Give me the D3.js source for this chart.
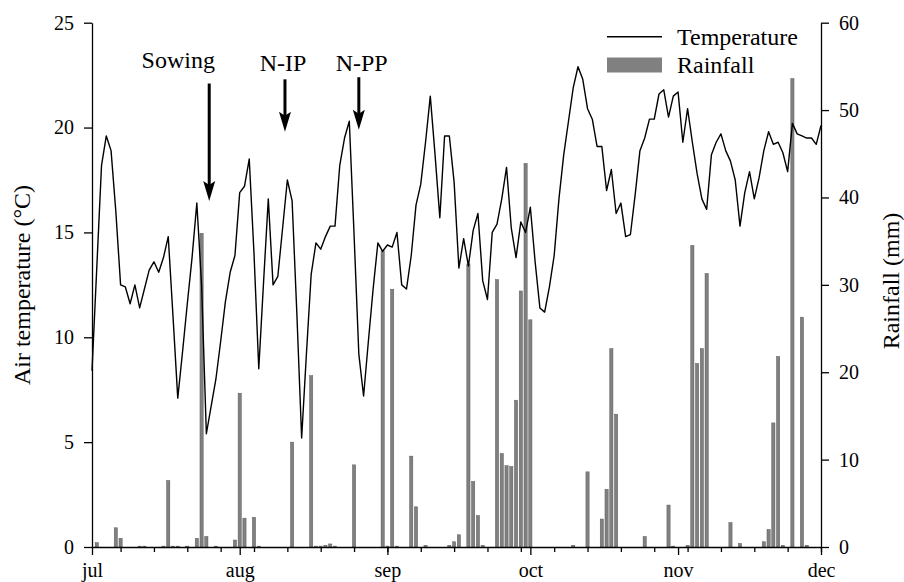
<!DOCTYPE html>
<html>
<head>
<meta charset="utf-8">
<script src="https://cdn.jsdelivr.net/npm/d3@7"></script>
<style>
  body { margin: 0; background: #fff; }
  svg text { font-family: "Liberation Serif", "Times New Roman", serif; fill: #000; }
</style>
</head>
<body>
<svg width="904" height="582"></svg>
<script>
// daily air temperature (°C), one value per day from 1 jul to 1 dec
var temperature = [
  8.4, 13.3, 18.2, 19.6, 18.9, 16.0, 12.5, 12.4, 11.6, 12.5,
  11.4, 12.3, 13.2, 13.6, 13.1, 13.8, 14.8, 11.0, 7.1, 9.3,
  11.6, 13.8, 16.4, 12.5, 5.4, 6.7, 8.0, 9.8, 11.7, 13.1,
  13.9, 16.9, 17.2, 18.5, 14.0, 8.5, 12.6, 16.6, 12.5, 12.9,
  15.2, 17.5, 16.5, 11.1, 5.2, 9.2, 13.0, 14.5, 14.2, 14.8,
  15.3, 15.3, 18.2, 19.5, 20.3, 14.9, 9.2, 7.2, 9.8, 12.3,
  14.5, 14.1, 14.4, 14.3, 15.0, 12.5, 12.3, 13.9, 16.3, 17.3,
  19.3, 21.5, 18.7, 15.7, 19.6, 19.6, 17.4, 13.3, 14.7, 13.4,
  15.1, 15.9, 12.7, 11.8, 15.0, 15.4, 16.6, 18.1, 15.2, 13.8,
  15.5, 15.0, 16.2, 13.6, 11.4, 11.2, 12.4, 13.9, 16.6, 18.7,
  20.3, 21.9, 22.9, 22.3, 20.9, 20.4, 19.1, 19.1, 17.0, 18.0,
  15.9, 16.4, 14.8, 14.9, 16.8, 18.9, 19.5, 20.4, 20.4, 21.6,
  21.8, 20.5, 21.5, 21.7, 19.3, 20.9, 19.3, 17.8, 16.6, 16.1,
  18.7, 19.3, 19.7, 18.9, 18.4, 17.5, 15.3, 16.9, 17.9, 16.6,
  17.6, 18.9, 19.8, 19.2, 19.3, 18.8, 17.9, 20.2, 19.7, 19.6,
  19.5, 19.5, 19.2, 20.1
];

// rainfall: day after 1 jul, and amount (mm)
var rainDay = [1, 5, 6, 10, 11, 15, 16, 17, 18, 20, 22, 23, 24, 26, 30, 31, 32, 34, 35,
  42, 46, 47, 48, 49, 50, 51, 55, 61, 62, 63, 64, 67, 68, 70, 75, 76, 77, 79, 80, 81, 82,
  85, 86, 87, 88, 89, 90, 91, 92, 101, 104, 107, 108, 109, 110, 116, 121, 122, 125, 126,
  127, 128, 129, 134, 136, 141, 142, 143, 144, 145, 147, 149, 150];
var rainMm = [0.5, 2.2, 1.0, 0.1, 0.1, 0.1, 7.6, 0.1, 0.1, 0.1, 1.0, 35.9, 1.2, 0.1, 0.8, 17.6, 3.3, 3.4, 0.1,
  12.0, 19.6, 0.1, 0.1, 0.2, 0.35, 0.1, 9.4, 33.9, 0.1, 29.5, 0.1, 10.4, 4.6, 0.2, 0.2, 0.6, 1.4, 32.4, 7.5, 3.6, 0.2,
  30.6, 10.7, 9.3, 9.2, 16.8, 29.3, 43.9, 26.0, 0.2, 8.6, 3.2, 6.6, 22.7, 15.2, 1.2, 4.8, 0.1, 0.2, 34.5,
  21.0, 22.7, 31.3, 2.8, 0.4, 0.6, 2.0, 14.2, 21.8, 0.2, 53.6, 26.3, 0.2];

var tempTicks = [0, 5, 10, 15, 20, 25];
var rainTicks = [0, 10, 20, 30, 40, 50, 60];

// field operations: label, day after 1 jul, label shift (days)
var eventLabel = ["Sowing", "N-IP", "N-PP"];
var eventDay = [24.6, 40.5, 56.0];
var eventShift = [-6.5, -0.4, 0.6];

var svg = d3.select("svg"),
    mLeft = 92, mRight = 821, mTop = 22.7, mBottom = 547;

var start = new Date(Date.UTC(2019, 6, 1)),
    end = new Date(Date.UTC(2019, 11, 1));
function dayDate(d) { return new Date(start.getTime() + d * 864e5); }

var x = d3.scaleUtc().domain([start, end]).range([mLeft, mRight]),
    yT = d3.scaleLinear().domain([0, 25]).range([mBottom, mTop]),
    yR = d3.scaleLinear().domain([0, 60]).range([mBottom, mTop]);

// rainfall bars
var bw = 3.2;
svg.append("g").selectAll("rect")
  .data(rainDay)
  .enter().append("rect")
  .attr("x", function(d) { return x(dayDate(d)) - bw / 2; })
  .attr("y", function(d, i) { return yR(rainMm[i]); })
  .attr("width", bw)
  .attr("height", function(d, i) { return mBottom - yR(rainMm[i]); })
  .attr("fill", "#808080")
  .attr("stroke", "#5c5c5c")
  .attr("stroke-width", 0.5);

// temperature line
var line = d3.line()
  .x(function(d, i) { return x(dayDate(i)); })
  .y(function(d) { return yT(d); });

svg.append("path")
  .datum(temperature)
  .attr("d", line)
  .attr("fill", "none")
  .attr("stroke", "#000")
  .attr("stroke-width", 1.4)
  .attr("stroke-linejoin", "round");

// axes
function styleAxis(g) {
  g.selectAll("path, line").attr("stroke", "#000").attr("stroke-width", 1.3);
  g.selectAll("text").attr("font-size", 20).attr("font-family", "Liberation Serif").attr("fill", "#000");
}

svg.append("g")
  .attr("transform", "translate(" + mLeft + ",0)")
  .call(d3.axisLeft(yT).tickValues(tempTicks).tickSize(8).tickSizeOuter(0).tickPadding(10))
  .call(styleAxis);

svg.append("g")
  .attr("transform", "translate(" + mRight + ",0)")
  .call(d3.axisRight(yR).tickValues(rainTicks).tickSize(8).tickSizeOuter(0).tickPadding(10))
  .call(styleAxis);

svg.append("g")
  .attr("transform", "translate(0," + mBottom + ")")
  .call(d3.axisBottom(x).ticks(d3.utcSunday.every(1)).tickSize(5).tickSizeOuter(0).tickFormat(""))
  .call(styleAxis);

svg.append("g")
  .attr("transform", "translate(0," + mBottom + ")")
  .call(d3.axisBottom(x).ticks(d3.utcMonth.every(1)).tickSize(8).tickPadding(8)
    .tickFormat(function(d) { return d3.utcFormat("%b")(d).toLowerCase(); }))
  .call(styleAxis)
  .call(function(g) { g.select(".domain").remove(); });

// axis titles
svg.append("text")
  .attr("transform", "translate(30,285) rotate(-90)")
  .attr("text-anchor", "middle")
  .attr("font-size", 24)
  .text("Air temperature (°C)");

svg.append("text")
  .attr("transform", "translate(899,281) rotate(-90)")
  .attr("text-anchor", "middle")
  .attr("font-size", 24)
  .text("Rainfall (mm)");

// legend
var lg = svg.append("g");
lg.append("line")
  .attr("x1", 607).attr("x2", 662).attr("y1", 36.7).attr("y2", 36.7)
  .attr("stroke", "#000").attr("stroke-width", 1.5);
lg.append("text").attr("x", 677).attr("y", 45).attr("font-size", 24).text("Temperature");
lg.append("rect")
  .attr("x", 607).attr("y", 57.5).attr("width", 55).attr("height", 15)
  .attr("fill", "#808080");
lg.append("text").attr("x", 677).attr("y", 73).attr("font-size", 24).text("Rainfall");

// event arrows
var arrowTop = [22.1, 22.3, 22.4],
    arrowTip = [16.5, 19.8, 19.9];
eventLabel.forEach(function(lab, i) {
  var ax = x(dayDate(eventDay[i])),
      y0 = yT(arrowTop[i]),
      y1 = yT(arrowTip[i]);
  svg.append("text")
    .attr("x", x(dayDate(eventDay[i] + eventShift[i])))
    .attr("y", i === 0 ? 68 : 71)
    .attr("text-anchor", "middle")
    .attr("font-size", 24)
    .text(lab);
  svg.append("line")
    .attr("x1", ax).attr("x2", ax).attr("y1", y0).attr("y2", y1 - 12)
    .attr("stroke", "#000").attr("stroke-width", 3);
  svg.append("path")
    .attr("d", "M" + ax + "," + y1 + "L" + (ax - 6) + "," + (y1 - 20) +
      "L" + ax + "," + (y1 - 16) + "L" + (ax + 6) + "," + (y1 - 20) + "Z")
    .attr("fill", "#000");
});
</script>
</body>
</html>
